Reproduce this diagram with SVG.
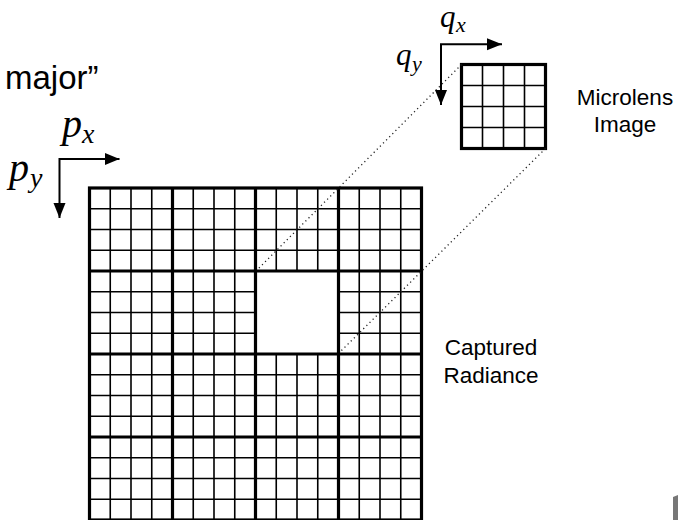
<svg xmlns="http://www.w3.org/2000/svg" width="678" height="520" viewBox="0 0 678 520">
<defs>
<style>
.thin{stroke:#000;stroke-width:1.6;fill:none}
.thick{stroke:#000;stroke-width:3.2;fill:none}
.dot{stroke:#222;stroke-width:1.3;stroke-dasharray:1.2 3.2;fill:none}
.ax{stroke:#000;stroke-width:2;fill:none}
.lbl{font-family:"Liberation Sans",Arial,Helvetica,sans-serif;fill:#000}
.math{font-family:"Liberation Serif","Times New Roman",serif;font-style:italic;fill:#000}
</style>
</defs>
<rect width="678" height="520" fill="#fff"/>

<text class="lbl" x="5" y="89" font-size="33">major”</text>

<g id="radiance">
<g class="thin">
<path d="M110.25,188V520M131,188V520M151.75,188V520M193.25,188V520M214,188V520M234.75,188V520M276.25,188V520M297,188V520M317.75,188V520M359.25,188V520M380,188V520M400.75,188V520"/>
<path d="M89.5,208.75H421.5M89.5,229.5H421.5M89.5,250.25H421.5M89.5,291.75H421.5M89.5,312.5H421.5M89.5,333.25H421.5M89.5,374.75H421.5M89.5,395.5H421.5M89.5,416.25H421.5M89.5,457.75H421.5M89.5,478.5H421.5M89.5,499.25H421.5"/>
</g>
<rect x="255.5" y="271" width="83" height="83" fill="#fff"/>
<g class="thick">
<rect x="89.5" y="188" width="332" height="332"/>
<path d="M172.5,188V520M255.5,188V520M338.5,188V520M89.5,271H421.5M89.5,354H421.5M89.5,437H421.5"/>
</g>
</g>

<g id="microlens">
<g class="thin">
<path d="M482.5,64.5V148.5M503.5,64.5V148.5M524.5,64.5V148.5M461.5,85.5H545.5M461.5,106.5H545.5M461.5,127.5H545.5"/>
</g>
<rect class="thick" x="461.5" y="64.5" width="84" height="84"/>
</g>

<g id="connectors">
<path class="dot" d="M461.5,64.5L257,270"/>
<path class="dot" d="M545.5,148.5L340,352"/>
</g>

<g id="p-axes">
<path class="ax" d="M59.5,218V159H119.5"/>
<path d="M119.5,159L105,153L105,165z" fill="#000"/>
<path d="M59.5,218L53.5,203L65.5,203z" fill="#000"/>
<text class="math" x="62" y="137" font-size="40">p</text>
<text class="math" x="82" y="143" font-size="28">x</text>
<text class="math" x="9" y="181" font-size="40">p</text>
<text class="math" x="30" y="187" font-size="28">y</text>
</g>

<g id="q-axes">
<path class="ax" d="M441,105V44.3H502"/>
<path d="M502,44.3L487,38.3L487,50.3z" fill="#000"/>
<path d="M441,105L435,90L447,90z" fill="#000"/>
<text class="math" x="440" y="27" font-size="31">q</text>
<text class="math" x="456" y="32" font-size="22">x</text>
<text class="math" x="396" y="65" font-size="31">q</text>
<text class="math" x="412" y="71" font-size="22">y</text>
</g>

<g id="texts">
<text class="lbl" x="625" y="105" font-size="22.5" text-anchor="middle">Microlens</text>
<text class="lbl" x="625" y="132" font-size="22.5" text-anchor="middle">Image</text>
<text class="lbl" x="491" y="355" font-size="22.5" text-anchor="middle">Captured</text>
<text class="lbl" x="491" y="383" font-size="22.5" text-anchor="middle">Radiance</text>
</g>

<path d="M673,497L678,495V520H673z" fill="#777"/>
</svg>
